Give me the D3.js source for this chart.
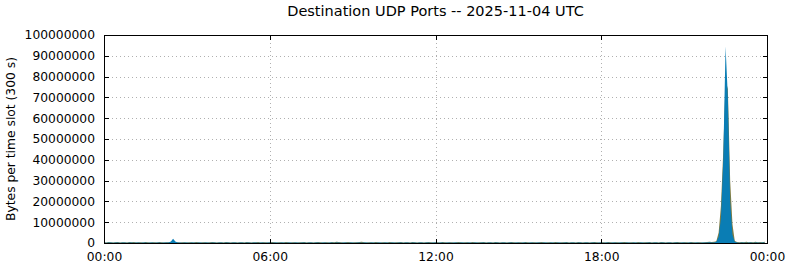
<!DOCTYPE html>
<html>
<head>
<meta charset="utf-8">
<script src="https://cdn.jsdelivr.net/npm/d3@7"></script>
<style>
  body { margin: 0; background: #fff; }
  text { font-family: "DejaVu Sans", sans-serif; }
</style>
</head>
<body>
<svg id="chart" width="790" height="267"></svg>
<script>
// 5-minute slots over the day, values in millions of bytes per slot
const slotMinutes = 5;
const dayStart = new Date(Date.UTC(2025, 10, 4, 0, 0));
const dayEnd = new Date(Date.UTC(2025, 10, 5, 0, 0));

// olive series (drawn behind)
const oliveBytesM = [
  0.4, 0.3, 0.5, 0.4, 0.3, 0.4, 0.5, 0.3, 0.4, 0.4, 0.3, 0.5,
  0.4, 0.5, 0.3, 0.4, 0.4, 0.3, 0.5, 0.4, 0.3, 0.4, 0.4, 0.3,
  0.5, 0.4, 0.3, 0.4, 0.4, 0.6, 0.8, 0.5, 0.4, 0.3, 0.4, 0.4,
  0.3, 0.4, 0.4, 0.3, 0.5, 0.4, 0.3, 0.4, 0.4, 0.3, 0.4, 0.5,
  0.4, 0.3, 0.4, 0.4, 0.3, 0.5, 0.4, 0.3, 0.4, 0.4, 0.3, 0.4,
  0.4, 0.3, 0.5, 0.4, 0.3, 0.4, 0.4, 0.5, 0.3, 0.4, 0.4, 0.3,
  0.4, 0.5, 0.4, 0.3, 0.4, 0.4, 0.3, 0.5, 0.4, 0.3, 0.4, 0.4,
  0.3, 0.4, 0.4, 0.5, 0.3, 0.4, 0.4, 0.3, 0.4, 0.5, 0.4, 0.3,
  0.4, 0.4, 0.3, 0.5, 0.4, 0.6, 0.5, 0.4, 0.3, 0.4, 0.5, 0.4,
  0.3, 0.4, 0.4, 0.5, 0.6, 0.4, 0.3, 0.4, 0.4, 0.3, 0.5, 0.4,
  0.3, 0.4, 0.4, 0.3, 0.5, 0.4, 0.3, 0.4, 0.4, 0.5, 0.3, 0.4,
  0.4, 0.3, 0.5, 0.4, 0.3, 0.4, 0.4, 0.3, 0.4, 0.5, 0.4, 0.3,
  0.4, 0.4, 0.3, 0.5, 0.4, 0.3, 0.4, 0.4, 0.3, 0.4, 0.5, 0.4,
  0.3, 0.4, 0.4, 0.3, 0.5, 0.4, 0.3, 0.4, 0.4, 0.5, 0.3, 0.4,
  0.4, 0.3, 0.5, 0.4, 0.3, 0.4, 0.4, 0.3, 0.4, 0.5, 0.4, 0.3,
  0.4, 0.4, 0.3, 0.5, 0.4, 0.3, 0.4, 0.4, 0.3, 0.4, 0.5, 0.4,
  0.3, 0.4, 0.4, 0.3, 0.5, 0.4, 0.3, 0.4, 0.4, 0.5, 0.3, 0.4,
  0.4, 0.3, 0.5, 0.4, 0.3, 0.4, 0.4, 0.3, 0.4, 0.5, 0.4, 0.3,
  0.4, 0.4, 0.3, 0.5, 0.4, 0.3, 0.4, 0.4, 0.3, 0.4, 0.5, 0.4,
  0.3, 0.4, 0.4, 0.3, 0.5, 0.4, 0.3, 0.4, 0.4, 0.5, 0.3, 0.4,
  0.4, 0.3, 0.5, 0.4, 0.3, 0.4, 0.4, 0.3, 0.4, 0.5, 0.4, 0.3,
  0.4, 0.4, 0.3, 0.5, 0.4, 0.3, 0.4, 0.4, 0.3, 0.4, 0.5, 0.6,
  0.5, 0.6, 0.8, 5.0, 18.0, 44.0, 78.0, 74.0, 30.0, 9.0, 1.0, 0.5,
  0.4, 0.5, 0.4, 0.6, 0.4, 0.5, 0.4, 0.6, 0.4, 0.5, 0.4, 0.6
];

// blue series (dominant, drawn on top)
const blueBytesM = [
  0.2, 0.1, 0.2, 0.2, 0.1, 0.2, 0.2, 0.1, 0.2, 0.2, 0.1, 0.2,
  0.2, 0.1, 0.2, 0.2, 0.1, 0.2, 0.2, 0.1, 0.2, 0.2, 0.1, 0.2,
  0.2, 0.1, 0.2, 0.2, 0.3, 0.6, 2.1, 0.7, 0.3, 0.2, 0.1, 0.2,
  0.2, 0.1, 0.2, 0.2, 0.1, 0.2, 0.2, 0.1, 0.2, 0.2, 0.1, 0.2,
  0.2, 0.1, 0.2, 0.2, 0.1, 0.2, 0.2, 0.1, 0.2, 0.2, 0.1, 0.2,
  0.2, 0.1, 0.2, 0.2, 0.1, 0.2, 0.2, 0.1, 0.2, 0.2, 0.1, 0.2,
  0.2, 0.1, 0.2, 0.2, 0.1, 0.2, 0.2, 0.1, 0.2, 0.2, 0.1, 0.2,
  0.2, 0.1, 0.2, 0.2, 0.1, 0.2, 0.2, 0.1, 0.2, 0.2, 0.1, 0.2,
  0.2, 0.1, 0.2, 0.2, 0.1, 0.2, 0.2, 0.1, 0.2, 0.2, 0.1, 0.2,
  0.2, 0.1, 0.2, 0.2, 0.1, 0.2, 0.2, 0.1, 0.2, 0.2, 0.1, 0.2,
  0.2, 0.1, 0.2, 0.2, 0.1, 0.2, 0.2, 0.1, 0.2, 0.2, 0.1, 0.2,
  0.2, 0.1, 0.2, 0.2, 0.1, 0.2, 0.2, 0.1, 0.2, 0.2, 0.1, 0.2,
  0.2, 0.1, 0.2, 0.2, 0.1, 0.2, 0.2, 0.1, 0.2, 0.2, 0.1, 0.2,
  0.2, 0.1, 0.2, 0.2, 0.1, 0.2, 0.2, 0.1, 0.2, 0.2, 0.1, 0.2,
  0.2, 0.1, 0.2, 0.2, 0.1, 0.2, 0.2, 0.1, 0.2, 0.2, 0.1, 0.2,
  0.2, 0.1, 0.2, 0.2, 0.1, 0.2, 0.2, 0.1, 0.2, 0.2, 0.1, 0.2,
  0.2, 0.1, 0.2, 0.2, 0.1, 0.2, 0.2, 0.1, 0.2, 0.2, 0.1, 0.2,
  0.2, 0.1, 0.2, 0.2, 0.1, 0.2, 0.2, 0.1, 0.2, 0.2, 0.1, 0.2,
  0.2, 0.1, 0.2, 0.2, 0.1, 0.2, 0.2, 0.1, 0.2, 0.2, 0.1, 0.2,
  0.2, 0.1, 0.2, 0.2, 0.1, 0.2, 0.2, 0.1, 0.2, 0.2, 0.1, 0.2,
  0.2, 0.1, 0.2, 0.2, 0.1, 0.2, 0.2, 0.1, 0.2, 0.2, 0.1, 0.2,
  0.2, 0.1, 0.2, 0.2, 0.1, 0.2, 0.2, 0.1, 0.2, 0.2, 0.3, 0.4,
  0.2, 0.3, 0.6, 3.0, 12.0, 40.0, 94.5, 70.0, 20.0, 4.0, 0.6, 0.2,
  0.1, 0.2, 0.2, 0.1, 0.2, 0.2, 0.1, 0.2, 0.2, 0.1, 0.2, 0.2
];

const yTicks = [0, 10e6, 20e6, 30e6, 40e6, 50e6, 60e6, 70e6, 80e6, 90e6, 100e6];
const xTickHours = [0, 6, 12, 18, 24];

const svg = d3.select("#chart");
const margin = { top: 35, right: 23, bottom: 24, left: 104 };
const width = 790 - margin.left - margin.right;
const height = 267 - margin.top - margin.bottom;

const x = d3.scaleUtc().domain([dayStart, dayEnd]).range([0, width]);
const y = d3.scaleLinear().domain([0, 100e6]).range([height, 0]);

const g = svg.append("g").attr("transform", `translate(${margin.left},${margin.top})`);

const slotTime = i => new Date(dayStart.getTime() + i * slotMinutes * 60000);
const xTickDates = xTickHours.map(h => new Date(dayStart.getTime() + h * 3600000));

// dotted grid
g.append("g").selectAll("line").data(yTicks.slice(1, -1)).join("line")
    .attr("x1", 0).attr("x2", width)
    .attr("y1", d => Math.round(y(d)) + 0.5).attr("y2", d => Math.round(y(d)) + 0.5)
    .attr("stroke", "#b0b0b0").attr("stroke-dasharray", "1,3");
g.append("g").selectAll("line").data(xTickDates.slice(1, -1)).join("line")
    .attr("x1", d => Math.round(x(d)) + 0.5).attr("x2", d => Math.round(x(d)) + 0.5)
    .attr("y1", 0).attr("y2", height)
    .attr("stroke", "#b0b0b0").attr("stroke-dasharray", "1,3");

// areas
const area = d3.area()
    .x((d, i) => x(slotTime(i)))
    .y0(height)
    .y1(d => y(d * 1e6));

g.append("path").datum(oliveBytesM)
    .attr("d", area)
    .attr("fill", "#7f7d45");
g.append("path").datum(blueBytesM)
    .attr("d", area)
    .attr("fill", "#0a7db4");

// frame
g.append("rect")
    .attr("x", 0.5).attr("y", 0.5)
    .attr("width", width).attr("height", height)
    .attr("fill", "none").attr("stroke", "#000");

// axes with inward ticks
const yAxis = d3.axisLeft(y).tickValues(yTicks).tickSize(0).tickPadding(9).tickFormat(d3.format("d"));
const ya = g.append("g").call(yAxis);
ya.select(".domain").remove();
ya.selectAll("text").attr("font-size", 12.3).attr("fill", "#000").attr("font-family", "DejaVu Sans");

g.append("g").selectAll("line").data(yTicks).join("line")
    .attr("x1", 0).attr("x2", 5)
    .attr("y1", d => Math.round(y(d)) + 0.5).attr("y2", d => Math.round(y(d)) + 0.5)
    .attr("stroke", "#000");
g.append("g").selectAll("line").data(yTicks).join("line")
    .attr("x1", width - 4).attr("x2", width + 1)
    .attr("y1", d => Math.round(y(d)) + 0.5).attr("y2", d => Math.round(y(d)) + 0.5)
    .attr("stroke", "#000");

const xAxis = d3.axisBottom(x).tickValues(xTickDates).tickSize(0).tickPadding(9)
    .tickFormat(d3.utcFormat("%H:%M"));
const xa = g.append("g").attr("transform", `translate(0,${height})`).call(xAxis);
xa.select(".domain").remove();
xa.selectAll("text").attr("font-size", 12.3).attr("fill", "#000").attr("font-family", "DejaVu Sans");

g.append("g").selectAll("line").data(xTickDates).join("line")
    .attr("x1", d => Math.round(x(d)) + 0.5).attr("x2", d => Math.round(x(d)) + 0.5)
    .attr("y1", height - 4).attr("y2", height + 1)
    .attr("stroke", "#000");
g.append("g").selectAll("line").data(xTickDates).join("line")
    .attr("x1", d => Math.round(x(d)) + 0.5).attr("x2", d => Math.round(x(d)) + 0.5)
    .attr("y1", 0).attr("y2", 5)
    .attr("stroke", "#000");

// title and y label
svg.append("text")
    .attr("x", margin.left + width / 2).attr("y", 16)
    .attr("text-anchor", "middle").attr("font-size", 14.5)
    .text("Destination UDP Ports -- 2025-11-04 UTC");

svg.append("text")
    .attr("transform", `translate(15,${margin.top + height / 2}) rotate(-90)`)
    .attr("text-anchor", "middle").attr("font-size", 12.3)
    .text("Bytes per time slot (300 s)");
</script>
</body>
</html>
